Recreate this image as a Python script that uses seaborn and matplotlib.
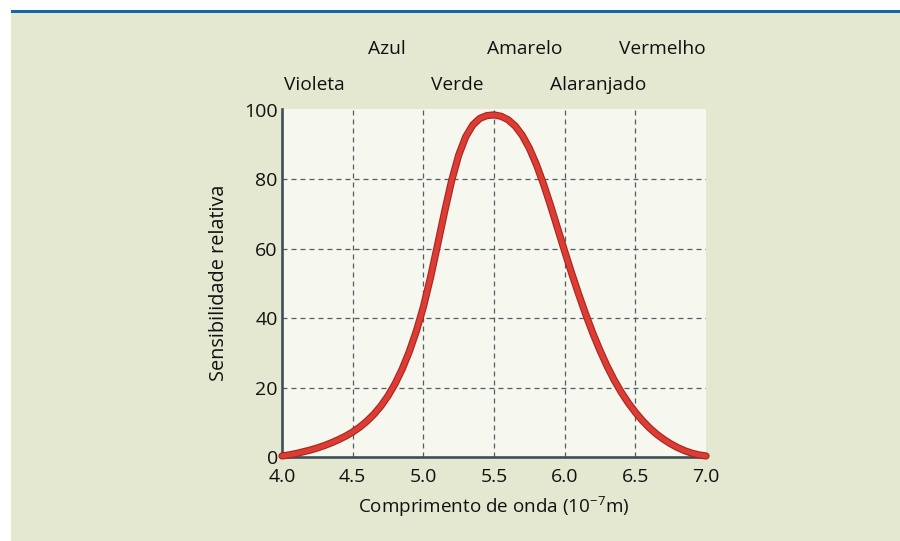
import matplotlib
matplotlib.use("Agg")
import matplotlib.pyplot as plt
import matplotlib.patheffects as pe
import matplotlib.transforms as mtransforms
from matplotlib.patches import Rectangle
import seaborn as sns
import pandas as pd

# ---- data ----
wavelength = [4.00, 4.05, 4.10, 4.15, 4.20, 4.25, 4.30, 4.35, 4.40, 4.45,
              4.50, 4.55, 4.60, 4.65, 4.70, 4.75, 4.80, 4.85, 4.90, 4.95,
              5.00, 5.05, 5.10, 5.15, 5.20, 5.25, 5.30, 5.35, 5.40, 5.45,
              5.50, 5.55, 5.60, 5.65, 5.70, 5.75, 5.80, 5.85, 5.90, 5.95,
              6.00, 6.05, 6.10, 6.15, 6.20, 6.25, 6.30, 6.35, 6.40, 6.45,
              6.50, 6.55, 6.60, 6.65, 6.70, 6.75, 6.80, 6.85, 6.90, 6.95,
              7.00]
sensitivity = [0.3, 0.6, 1.0, 1.5, 2.0, 2.6, 3.3, 4.1, 5.0, 6.0,
               7.2, 8.6, 10.3, 12.3, 14.7, 17.6, 21.1, 25.3, 30.3, 36.2,
               43.2, 51.6, 61.0, 70.6, 79.6, 87.0, 92.3, 95.7, 97.6, 98.4,
               98.6, 98.2, 97.2, 95.4, 92.7, 89.0, 84.3, 78.7, 72.5, 65.9,
               59.3, 52.9, 46.8, 41.0, 35.6, 30.7, 26.2, 22.2, 18.7, 15.6,
               12.9, 10.5, 8.4, 6.6, 5.1, 3.8, 2.7, 1.8, 1.1, 0.6,
               0.3]
x_ticks = [4.0, 4.5, 5.0, 5.5, 6.0, 6.5, 7.0]
x_tick_labels = ["4.0", "4.5", "5.0", "5.5", "6.0", "6.5", "7.0"]
y_ticks = [0, 20, 40, 60, 80, 100]
color_names_top = ["Azul", "Amarelo", "Vermelho"]
color_pos_top = [4.74, 5.72, 6.69]
color_names_bottom = ["Violeta", "Verde", "Alaranjado"]
color_pos_bottom = [4.23, 5.24, 6.24]

df = pd.DataFrame({"x": wavelength, "y": sensitivity})

sns.set_style("white")
plt.rcParams["font.family"] = ["Open Sans", "DejaVu Sans"]

fig = plt.figure(figsize=(9, 5.41), dpi=100, facecolor="white")
# beige panel and blue top rule
fig.add_artist(Rectangle((11/900, 0), 1 - 11/900, (541 - 13)/541,
                         transform=fig.transFigure, facecolor="#E4E8D0",
                         edgecolor="none", zorder=-10))
fig.add_artist(Rectangle((11/900, (541 - 13)/541), 1 - 11/900, 3/541,
                         transform=fig.transFigure, facecolor="#1565B0",
                         edgecolor="none", zorder=-10))

ax = fig.add_axes([282/900, 84/541, 424/900, 348/541])
ax.set_zorder(1)
ax.set_facecolor("#F6F7EE")

sns.lineplot(data=df, x="x", y="y", ax=ax, color="#DB3D35", linewidth=3.6,
             solid_capstyle="round", solid_joinstyle="round", clip_on=False,
             zorder=5,
             path_effects=[pe.Stroke(linewidth=5.2, foreground="#A9231E",
                                     capstyle="round", joinstyle="round"),
                           pe.Normal()])

ax.set_xlim(4.0, 7.0)
ax.set_ylim(0, 100.3)
ax.set_xticks(x_ticks)
ax.set_xticklabels(x_tick_labels)
ax.set_yticks(y_ticks)

ax.grid(True, color="#4E5F66", linewidth=0.9, linestyle=(0, (4, 3.2)))
ax.set_axisbelow(True)
for gl in [ax.xaxis.get_gridlines()[0], ax.xaxis.get_gridlines()[-1],
           ax.yaxis.get_gridlines()[0], ax.yaxis.get_gridlines()[-1]]:
    gl.set_visible(False)

for s in ["top", "right"]:
    ax.spines[s].set_visible(False)
for s in ["left", "bottom"]:
    ax.spines[s].set_color("#3E5057")
    ax.spines[s].set_linewidth(1.9)
    ax.spines[s].set_zorder(4)

ax.tick_params(axis="both", length=0, labelsize=14, labelcolor="#111111")
ax.tick_params(axis="y", pad=3)
ax.tick_params(axis="x", pad=8)

ax.set_xlabel("Comprimento de onda (10$^{\\mathregular{-7}}$m)", fontsize=13.6,
              color="#111111", labelpad=6)
ax.set_ylabel("Sensibilidade relativa", fontsize=14.3, color="#111111",
              labelpad=11)

trans = mtransforms.blended_transform_factory(ax.transData, fig.transFigure)
for name, pos in zip(color_names_top, color_pos_top):
    ax.text(pos, (541 - 49)/541, name, transform=trans, ha="center",
            va="center", fontsize=13.8, color="#111111")
for name, pos in zip(color_names_bottom, color_pos_bottom):
    ax.text(pos, (541 - 85)/541, name, transform=trans, ha="center",
            va="center", fontsize=13.8, color="#111111")

fig.savefig("out.png", dpi=100, facecolor=fig.get_facecolor())
